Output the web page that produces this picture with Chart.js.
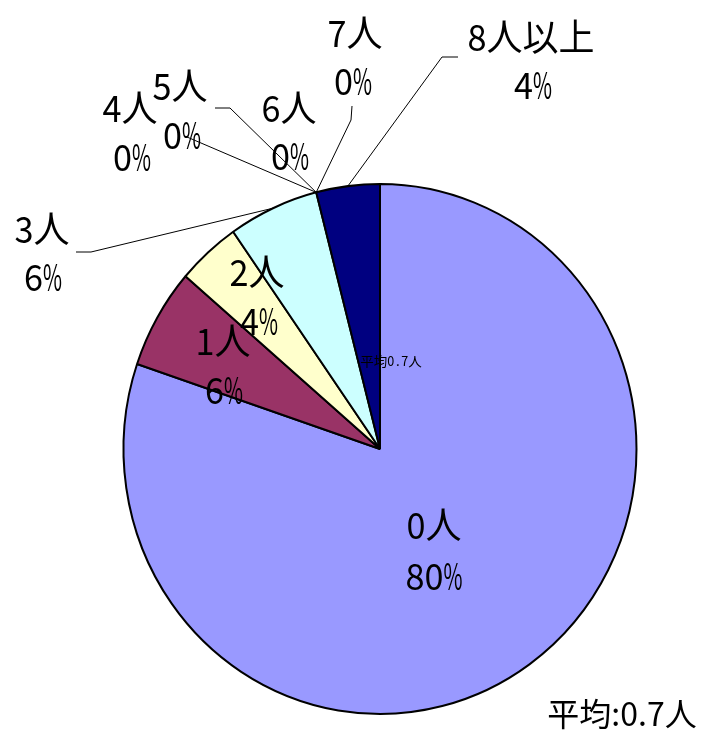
<!DOCTYPE html>
<html>
<head>
<meta charset="utf-8">
<script src="https://cdn.jsdelivr.net/npm/chart.js@4.4.1/dist/chart.umd.min.js"></script>
<style>
html,body{margin:0;padding:0;background:#fff;}
#wrap{width:702px;height:734px;}
canvas{display:block;}
</style>
</head>
<body>
<div id="wrap"><canvas id="c" width="702" height="734"></canvas></div>
<script>
// ---- data ----
const categories = ['0人', '1人', '2人', '3人', '4人', '5人', '6人', '7人', '8人以上'];
const shares = [80.2, 6.1, 4.0, 5.7, 0, 0, 0, 0, 4.0];
const sliceColors = ['#9999FF', '#993366', '#FFFFCC', '#CCFFFF', '#660066', '#FF8080', '#0066CC', '#CCCCFF', '#000080'];
const averageNote = '平均:0.7人';
const innerNote = '平均0.7人';

// ---- layout (label placement, leader lines) ----
const labelPos = [
  [[434, 525], [434, 576]],
  [[223, 341], [224, 390]],
  [[257, 272], [259, 321]],
  [[42, 229], [43, 277]],
  [[130, 108], [132, 157]],
  [[180, 86], [182, 135]],
  [[289, 108], [290, 156]],
  [[355, 33], [353, 81]],
  [[531, 37], [533, 85]]
];
const leaderStart = {
  3: [[76, 252], [91, 252]],
  4: [[187, 137]],
  5: [[215, 108], [230, 108]],
  7: [[352, 106], [351, 120]],
  8: [[458, 57], [442, 57]]
};
const SY = 1.033; // vertical stretch of the pie

function drawGothic(ctx, str, cx, cy, em, full, half) {
  ctx.font = em + 'px "Noto Sans CJK JP"';
  const chars = Array.from(str);
  const cells = chars.map(ch => ch.charCodeAt(0) < 256 ? half : full);
  const total = cells.reduce((a, b) => a + b, 0);
  let x = cx - total / 2;
  ctx.fillStyle = '#000';
  ctx.textAlign = 'center';
  ctx.textBaseline = 'alphabetic';
  chars.forEach((ch, i) => {
    const w = ctx.measureText(ch).width || 1;
    let sx = cells[i] / w;
    if (sx > 1.15) sx = 1.15;
    ctx.save();
    ctx.translate(x + cells[i] / 2, cy + 0.37 * em);
    ctx.scale(sx, 1);
    ctx.fillText(ch, 0, 0);
    ctx.restore();
    x += cells[i];
  });
}

const stretchPlugin = {
  id: 'stretch',
  beforeDatasetsDraw(chart) {
    const arc = chart.getDatasetMeta(0).data[0];
    const ctx = chart.ctx;
    ctx.save();
    ctx.translate(arc.x, arc.y);
    ctx.scale(1, SY);
    ctx.translate(-arc.x, -arc.y);
  },
  afterDatasetsDraw(chart) {
    chart.ctx.restore();
  }
};

const labelPlugin = {
  id: 'labels',
  afterDraw(chart) {
    const ctx = chart.ctx;
    const arcs = chart.getDatasetMeta(0).data;
    ctx.save();
    ctx.strokeStyle = '#000';
    ctx.lineWidth = 1;
    Object.keys(leaderStart).forEach(k => {
      const a = arcs[k];
      const mid = (a.startAngle + a.endAngle) / 2;
      const ax = a.x + a.outerRadius * Math.cos(mid);
      const ay = a.y + SY * a.outerRadius * Math.sin(mid);
      const pts = leaderStart[k];
      ctx.beginPath();
      ctx.moveTo(pts[0][0], pts[0][1]);
      for (let i = 1; i < pts.length; i++) ctx.lineTo(pts[i][0], pts[i][1]);
      ctx.lineTo(ax, ay);
      ctx.stroke();
    });
    categories.forEach((name, i) => {
      const p = labelPos[i];
      drawGothic(ctx, name, p[0][0], p[0][1], 37, 36, 19);
      drawGothic(ctx, Math.round(shares[i]) + '%', p[1][0], p[1][1], 37, 36, 19);
    });
    drawGothic(ctx, innerNote, 391, 361, 13, 13.5, 7);
    ctx.font = '32px "Noto Sans CJK JP"';
    ctx.fillStyle = '#000';
    ctx.textAlign = 'center';
    ctx.textBaseline = 'middle';
    ctx.fillText(averageNote, 622, 714);
    ctx.restore();
  }
};

new Chart(document.getElementById('c'), {
  type: 'pie',
  data: {
    labels: categories,
    datasets: [{
      data: shares,
      backgroundColor: sliceColors,
      borderColor: '#000',
      borderWidth: 2,
      radius: 256.5
    }]
  },
  options: {
    responsive: false,
    animation: false,
    devicePixelRatio: 1,
    layout: { padding: { left: 58, right: 0, top: 164, bottom: 0 } },
    plugins: { legend: { display: false }, tooltip: { enabled: false } }
  },
  plugins: [stretchPlugin, labelPlugin]
});
</script>
</body>
</html>
